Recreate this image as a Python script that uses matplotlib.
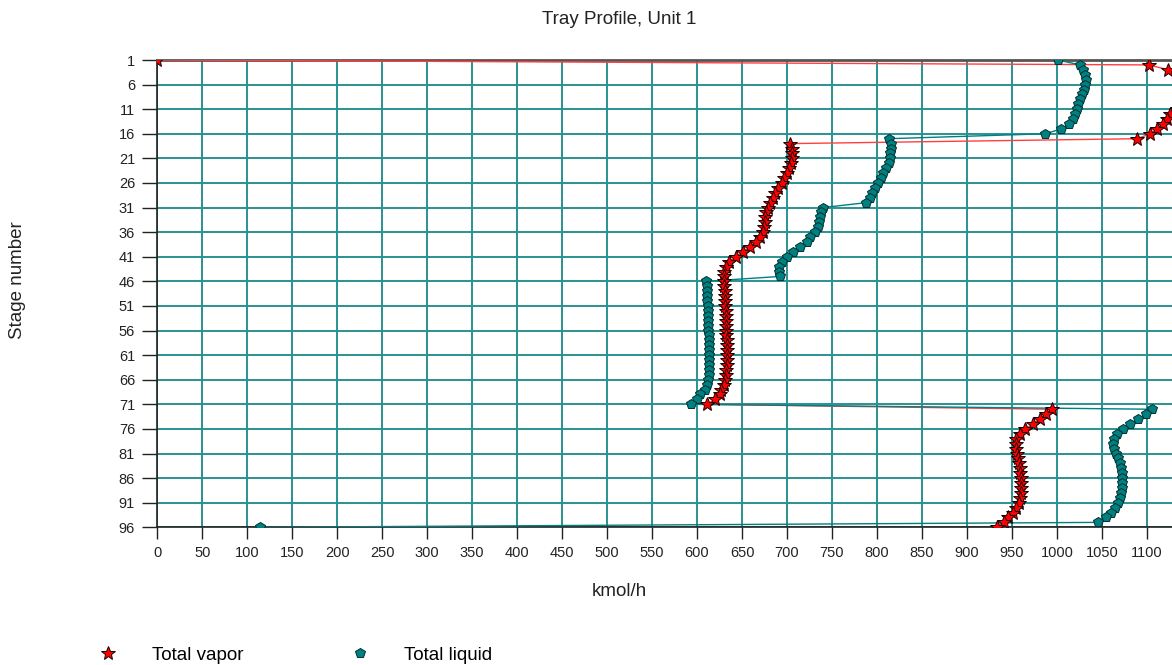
import matplotlib
matplotlib.use("Agg")
import matplotlib.pyplot as plt
from matplotlib.lines import Line2D

plt.rcParams['font.family'] = ['Liberation Sans', 'DejaVu Sans']

# ---------------- data ----------------
stages = list(range(1, 97))

total_vapor = [
    0, 1102, 1124, 1136, 1143, 1148, 1150, 1150, 1147, 1141,
    1133, 1126, 1122, 1118, 1111, 1104, 1089, 703, 705, 706,
    705, 704, 702, 700, 697, 694, 690, 687, 684, 681,
    679, 677, 676, 675, 674, 673, 670, 666, 659, 651,
    643, 636, 632, 630, 630, 630, 630, 631, 631, 631,
    631, 632, 632, 632, 632, 632, 632, 633, 633, 633,
    633, 633, 633, 632, 632, 631, 630, 627, 625, 620,
    611, 994, 988, 981, 973, 965, 959, 955, 954, 955,
    956, 957, 958, 959, 959, 960, 960, 960, 960, 959,
    958, 955, 951, 946, 941, 933,
]

total_liquid = [
    1001, 1026, 1029, 1031, 1032, 1031, 1030, 1028, 1026, 1024,
    1022, 1020, 1018, 1014, 1005, 987, 813, 816, 816, 815,
    814, 813, 810, 807, 804, 801, 798, 795, 792, 788,
    740, 738, 737, 736, 734, 731, 726, 722, 714, 707,
    700, 694, 691, 691, 692, 610, 611, 611, 611, 611,
    612, 612, 612, 612, 612, 612, 613, 613, 613, 613,
    613, 613, 613, 613, 613, 612, 611, 609, 603, 600,
    593, 1106, 1099, 1090, 1081, 1073, 1067, 1063, 1062, 1064,
    1066, 1068, 1070, 1071, 1072, 1072, 1072, 1072, 1071, 1070,
    1068, 1065, 1060, 1055, 1046, 114,
]

y_ticks = list(range(1, 97, 5))
x_ticks = list(range(0, 1101, 50))

title = "Tray Profile, Unit 1"
x_label = "kmol/h"
y_label = "Stage number"
vapor_label = "Total vapor"
liquid_label = "Total liquid"

# ---------------- figure ----------------
W, H = 1172, 665
fig = plt.figure(figsize=(W / 100, H / 100), dpi=100)

left_px, top_px, bottom_px = 157.3, 60.0, 527.3
px_per_unit = 0.8996
xmax = 1150
ax_w_px = xmax * px_per_unit
ax = fig.add_axes([left_px / W, (H - bottom_px) / H,
                   ax_w_px / W, (bottom_px - top_px) / H])

grid_col = '#2a9292'
vap_line = '#ff4040'
liq_col = '#008080'

ax.plot(total_vapor, stages, color=vap_line, lw=1.0, zorder=4)
ax.plot(total_liquid, stages, color=liq_col, lw=1.0, zorder=4)
ax.plot(total_vapor, stages, ls='none', marker='*', ms=10,
        mfc='#ff0000', mec='#1a0000', mew=0.7, zorder=5)
ax.plot(total_liquid, stages, ls='none', marker='p', ms=7.5,
        mfc=liq_col, mec='#003030', mew=0.7, zorder=5)

ax.set_xlim(0, xmax)
ax.set_ylim(96, 1)
ax.set_xticks(x_ticks)
ax.set_yticks(y_ticks)
ax.set_xticklabels([str(v) for v in x_ticks])
ax.set_yticklabels([str(v) for v in y_ticks])
ax.set_xticks([1150], minor=True)
ax.tick_params(axis='x', which='minor', length=0)
ax.grid(True, which='both', color=grid_col, lw=1.4, zorder=1)
ax.set_axisbelow(True)

for s in ['left', 'bottom']:
    ax.spines[s].set_color('#222222')
    ax.spines[s].set_linewidth(1.2)
    ax.spines[s].set_zorder(3)
ax.spines['top'].set_color('#555555')
ax.spines['top'].set_linewidth(2.0)
ax.spines['top'].set_zorder(3)
ax.spines['right'].set_visible(False)

ax.tick_params(axis='x', which='major', direction='out', length=8.5,
               width=1.0, color='#222222', labelsize=10.5, pad=5,
               labelcolor='#222222')
ax.tick_params(axis='y', direction='out', length=11, width=1.0,
               color='#222222', labelsize=10.5, pad=5, labelcolor='#222222')

fs = 13.5
fig.text(619 / W, 1 - 19 / H, title, ha='center', va='center',
         fontsize=fs, color='#222222')
fig.text(619 / W, 1 - 592 / H, x_label, ha='center', va='center',
         fontsize=fs, color='#222222')
fig.text(18 / W, 1 - 280 / H, y_label, ha='center', va='center',
         rotation=90, fontsize=fs, color='#222222')

handles = [
    Line2D([], [], ls='none', marker='*', ms=10, mfc='#ff0000',
           mec='#1a0000', mew=0.7),
    Line2D([], [], ls='none', marker='p', ms=7.5, mfc=liq_col,
           mec='#003030', mew=0.7),
]
fig.legend(handles, [vapor_label, liquid_label], ncol=2, frameon=False,
           loc='center left', bbox_to_anchor=(94 / W, 1 - 655 / H),
           borderpad=0, borderaxespad=0, handlelength=1.5,
           handletextpad=1.6, columnspacing=5.45, fontsize=fs)

fig.savefig("out.png", dpi=100)
